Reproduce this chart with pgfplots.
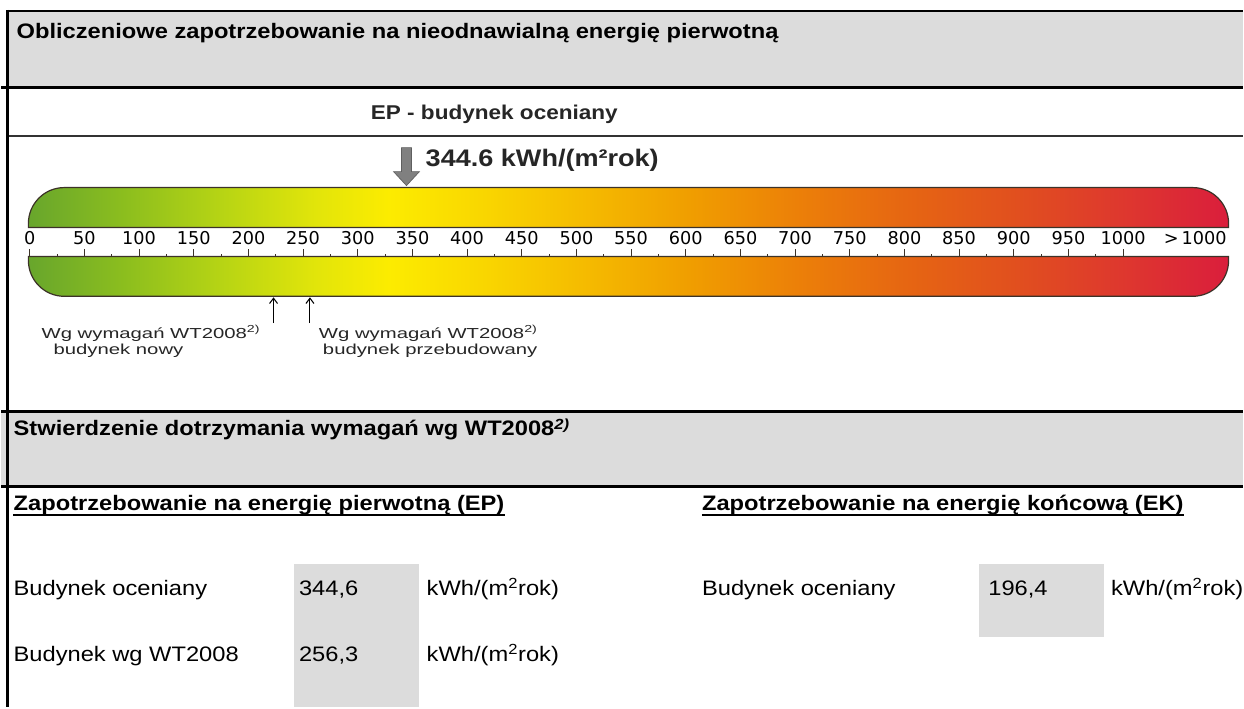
\documentclass[border=0pt]{standalone}
\usepackage{fontspec}
\setmainfont{Liberation Sans}[FakeStretch=1.13]
\newfontfamily\lblfamily{Liberation Sans}[FakeStretch=1.4]
\newfontfamily\scalefont{DejaVu Sans}
\usepackage{pgfplots}
\usepackage{pgfplotstable}
\pgfplotsset{compat=1.18}
\usetikzlibrary{arrows.meta}

\definecolor{bandgray}{RGB}{220,220,220}
\definecolor{barline}{RGB}{60,50,40}
\definecolor{arrowgray}{RGB}{128,128,128}
\definecolor{arrowedge}{RGB}{95,95,95}
\definecolor{epline}{RGB}{50,50,50}
\definecolor{s0}{RGB}{104,166,44}
\definecolor{s1}{RGB}{140,190,30}
\definecolor{s2}{RGB}{182,212,20}
\definecolor{s3}{RGB}{226,229,10}
\definecolor{s4}{RGB}{252,236,0}
\definecolor{s5}{RGB}{249,214,0}
\definecolor{s6}{RGB}{245,188,0}
\definecolor{s7}{RGB}{240,158,0}
\definecolor{s8}{RGB}{236,128,8}
\definecolor{s9}{RGB}{230,102,18}
\definecolor{s10}{RGB}{225,80,30}
\definecolor{s11}{RGB}{222,56,46}
\definecolor{s12}{RGB}{218,30,60}

\pgfdeclarehorizontalshading{epbar}{100bp}{color(0bp)=(s0); color(25bp)=(s0);
 color(29bp)=(s1); color(33bp)=(s2); color(37bp)=(s3); color(40bp)=(s4);
 color(44bp)=(s5); color(48bp)=(s6); color(52.5bp)=(s7); color(57bp)=(s8);
 color(61.5bp)=(s9); color(66bp)=(s10); color(70.5bp)=(s11); color(75bp)=(s12);
 color(100bp)=(s12)}

\pgfdeclareplotmark{downarrow}{%
  \pgfpathmoveto{\pgfpoint{0pt}{0pt}}%
  \pgfpathlineto{\pgfpoint{-9.75pt}{10.5pt}}%
  \pgfpathlineto{\pgfpoint{-3.75pt}{10.5pt}}%
  \pgfpathlineto{\pgfpoint{-3.75pt}{28.5pt}}%
  \pgfpathlineto{\pgfpoint{3.75pt}{28.5pt}}%
  \pgfpathlineto{\pgfpoint{3.75pt}{10.5pt}}%
  \pgfpathlineto{\pgfpoint{9.75pt}{10.5pt}}%
  \pgfpathclose
  \pgfusepathqfillstroke}

% EP values on the scale (kWh/(m2 rok)); y = vertical position of the marker
\pgfplotstableread{
v y
344.6 186
}\assessed
\pgfplotstableread{
v y0
223.0 324
256.3 324
}\reqs

\newcommand\docfont{\fontsize{15.75}{18}\selectfont}
\newcommand\lblfont{\lblfamily\fontsize{10.9}{12}\selectfont}

\begin{document}
\begin{tikzpicture}
\begin{axis}[at={(0,0)}, anchor=south west, scale only axis,
  width=933pt, height=531.75pt,
  xmin=0, xmax=1244, ymin=0, ymax=709, y dir=reverse,
  axis lines=none, clip=false]
  \fill[white] (axis cs:0,0) rectangle (axis cs:1244,709);
  % top band
  \fill[bandgray] (axis cs:5,11) rectangle (axis cs:1244,88);
  \draw[black, line width=1.8pt] (axis cs:5,11) -- (axis cs:1244,11);
  \draw[black, line width=2.2pt] (axis cs:0,88) -- (axis cs:1244,88);
  \node[anchor=base west, inner sep=0pt, font=\docfont\bfseries] at (axis cs:15,39)
    {Obliczeniowe zapotrzebowanie na nieodnawialną energię pierwotną};
  % graphic
  \node[anchor=base, inner sep=0pt, font=\fontsize{15}{17}\selectfont\bfseries, text=black!85] at (axis cs:494,120)
    {EP - budynek oceniany};
  \draw[epline, line width=1.5pt] (axis cs:8,136) -- (axis cs:1244,136);
  \node[anchor=base west, inner sep=0pt, font=\fontsize{18}{20}\selectfont\bfseries, text=black!85] at (axis cs:425,167)
    {344.6 kWh/(m²rok)};
  % upper bar
  \shadedraw[shading=epbar, draw=barline, line width=0.9pt]
    (axis cs:27,228) -- (axis cs:27,224)
    .. controls (axis cs:27,204.1) and (axis cs:43.1,188) .. (axis cs:63,188)
    -- (axis cs:1194,188)
    .. controls (axis cs:1213.9,188) and (axis cs:1230,204.1) .. (axis cs:1230,224)
    -- (axis cs:1230,228) -- cycle;
  % lower bar
  \shadedraw[shading=epbar, draw=barline, line width=0.9pt]
    (axis cs:27,257) -- (axis cs:27,261)
    .. controls (axis cs:27,280.9) and (axis cs:43.1,297) .. (axis cs:63,297)
    -- (axis cs:1194,297)
    .. controls (axis cs:1213.9,297) and (axis cs:1230,280.9) .. (axis cs:1230,261)
    -- (axis cs:1230,257) -- cycle;
  % assessed building (value -> position on the scale)
  \addplot[only marks, mark=downarrow, mark options={fill=arrowgray, draw=arrowedge, line width=0.5pt}]
    table[x expr=28.3+1.096*\thisrow{v}, y=y] {\assessed};
  % WT2008 requirements
  \addplot[black, line width=0.8pt, -{Straight Barb[length=4pt,width=6pt]},
    quiver={u=0, v=-26}]
    table[x expr=28.3+1.096*\thisrow{v}, y=y0] {\reqs};
  \node[anchor=base west, inner sep=0pt, font=\lblfont, text=black!85] at (axis cs:40,339)
    {Wg wymagań WT2008\textsuperscript{2)}};
  \node[anchor=base west, inner sep=0pt, font=\lblfont, text=black!85] at (axis cs:52,355)
    {budynek nowy};
  \node[anchor=base west, inner sep=0pt, font=\lblfont, text=black!85] at (axis cs:318,339)
    {Wg wymagań WT2008\textsuperscript{2)}};
  \node[anchor=base west, inner sep=0pt, font=\lblfont, text=black!85] at (axis cs:322,355)
    {budynek przebudowany};
  % second band
  \fill[bandgray] (axis cs:0,412) rectangle (axis cs:1244,488);
  \draw[black, line width=2.2pt] (axis cs:0,412) -- (axis cs:1244,412);
  \draw[black, line width=2.2pt] (axis cs:0,488) -- (axis cs:1244,488);
  \node[anchor=base west, inner sep=0pt, font=\docfont\bfseries] at (axis cs:12,437)
    {Stwierdzenie dotrzymania wymagań wg WT2008\textsuperscript{\itshape 2)}};
  % headings
  \node[anchor=base west, inner sep=0pt, font=\docfont\bfseries] (h1) at (axis cs:12,512)
    {Zapotrzebowanie na energię pierwotną (EP)};
  \draw[line width=1.3pt] ([yshift=-3pt]h1.base west) -- ([yshift=-3pt]h1.base east);
  \node[anchor=base west, inner sep=0pt, font=\docfont\bfseries] (h2) at (axis cs:702,512)
    {Zapotrzebowanie na energię końcową (EK)};
  \draw[line width=1.3pt] ([yshift=-3pt]h2.base west) -- ([yshift=-3pt]h2.base east);
  % value boxes
  \fill[bandgray] (axis cs:293,565) rectangle (axis cs:419,709);
  \fill[bandgray] (axis cs:980,565) rectangle (axis cs:1105,638);
  % rows
  \node[anchor=base west, inner sep=0pt, font=\docfont] at (axis cs:12,597) {Budynek oceniany};
  \node[anchor=base west, inner sep=0pt, font=\docfont] at (axis cs:298,597) {344,6};
  \node[anchor=base west, inner sep=0pt, font=\docfont] at (axis cs:426,597) {kWh/(m\textsuperscript{2}rok)};
  \node[anchor=base west, inner sep=0pt, font=\docfont] at (axis cs:12,663) {Budynek wg WT2008};
  \node[anchor=base west, inner sep=0pt, font=\docfont] at (axis cs:298,663) {256,3};
  \node[anchor=base west, inner sep=0pt, font=\docfont] at (axis cs:426,663) {kWh/(m\textsuperscript{2}rok)};
  \node[anchor=base west, inner sep=0pt, font=\docfont] at (axis cs:702,597) {Budynek oceniany};
  \node[anchor=base west, inner sep=0pt, font=\docfont] at (axis cs:989,597) {196,4};
  \node[anchor=base west, inner sep=0pt, font=\docfont] at (axis cs:1112,597) {kWh/(m\textsuperscript{2}rok)};
  % left border
  \draw[black, line width=2.2pt] (axis cs:6,10) -- (axis cs:6,709);
  \path (axis cs:0,0) rectangle (axis cs:1244,709);
\end{axis}
% EP scale
\begin{axis}[at={(20.25pt,339pt)}, anchor=south west, scale only axis,
  width=902.25pt, height=18pt,
  xmin=-1.1861, xmax=1096.44, ymin=0, ymax=1,
  axis x line*=bottom, axis y line=none,
  xtick={0,50,...,1000}, minor x tick num=1,
  tick align=inside, major tick length=5.25pt, minor tick length=2pt,
  tick style={draw=barline, line width=0.8pt},
  x axis line style={draw=barline, line width=0.9pt},
  xticklabel style={font=\scalefont\fontsize{13.3}{15}\selectfont, text=black, anchor=base, yshift=8.6pt, inner sep=0pt},
  /pgf/number format/assume math mode=true, /pgf/number format/1000 sep={},
  extra x ticks={1066}, extra x tick labels={>\,1000},
  extra x tick style={major tick length=0pt}]
  \addplot[draw=none] coordinates {(0,0.5)};
\end{axis}
\end{tikzpicture}
\end{document}
